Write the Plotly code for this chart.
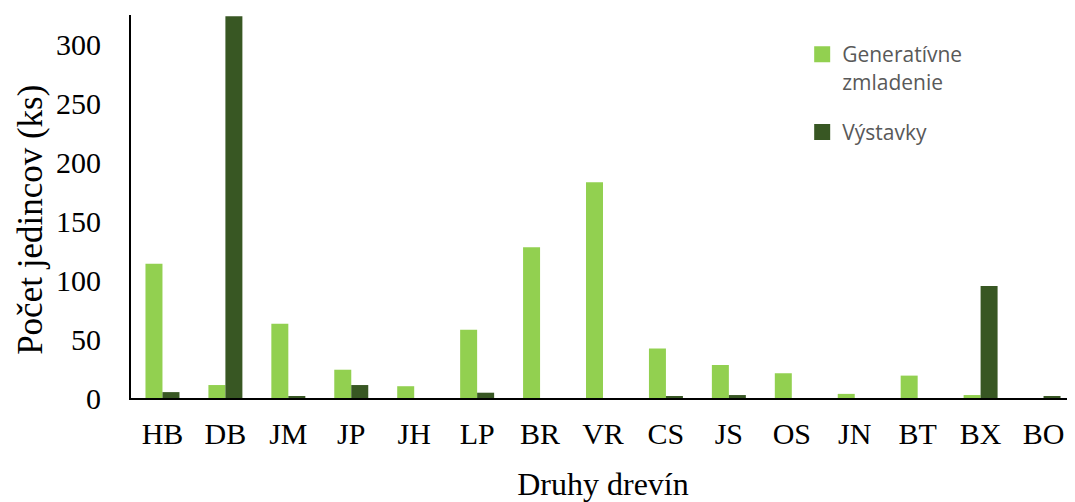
import plotly.graph_objects as go

categories = ["HB", "DB", "JM", "JP", "JH", "LP", "BR", "VR", "CS", "JS", "OS", "JN", "BT", "BX", "BO"]
generativne = [114, 11, 63, 24, 10, 58, 128, 183, 42, 28, 21, 3.5, 19, 2.5, 0]
vystavky = [5, 324, 1.5, 11, 0, 4.5, 0, 0, 1.5, 2.5, 0, 0, 0, 95, 1.5]
y_ticks = [0, 50, 100, 150, 200, 250, 300]
series_names = ["Generatívne<br>zmladenie", "Výstavky"]
series_colors = ["#92D050", "#385723"]

fig = go.Figure()
for vals, name, col in zip([generativne, vystavky], series_names, series_colors):
    fig.add_trace(go.Bar(x=categories, y=vals, name=name, showlegend=False,
                         marker=dict(color=col, line=dict(width=0))))
# legend entries with larger square swatches
for i, (name, col) in enumerate(zip(series_names, series_colors)):
    fig.add_trace(go.Scatter(x=[None], y=[None], mode="markers", name=name,
                             legendgroup=f"g{i}",
                             marker=dict(symbol="square", size=16, color=col)))

# page body has an 8px default margin, so the figure is sized/offset to compensate
fig.update_layout(
    width=1067, height=494,
    margin=dict(l=123, r=0, t=7, b=104, autoexpand=False),
    plot_bgcolor="white", paper_bgcolor="white",
    barmode="group", bargap=0.46, bargroupgap=0.0,
    font=dict(family="Liberation Serif", color="black"),
    legend=dict(x=0.711, y=0.95, xanchor="left", yanchor="top", valign="top",
                font=dict(family="Open Sans", size=21, color="#595959"),
                bgcolor="rgba(0,0,0,0)", tracegroupgap=20, itemsizing="trace"),
    xaxis=dict(showline=True, linecolor="black", linewidth=2, ticks="", automargin=False,
               ticklabelstandoff=8,
               tickfont=dict(size=30, family="Liberation Serif", color="black"),
               title=dict(text="Druhy drevín", font=dict(size=32, family="Liberation Serif"), standoff=24)),
    yaxis=dict(range=[0, 325], tickvals=y_ticks, showgrid=False, zeroline=False, automargin=False,
               showline=True, linecolor="black", linewidth=2, ticks="", ticklabelstandoff=22,
               tickfont=dict(size=30, family="Liberation Serif", color="black")),
    annotations=[dict(text="Počet jedincov (ks)", xref="paper", yref="paper",
                      x=-0.106, y=0.465, xanchor="center", yanchor="middle",
                      textangle=-90, showarrow=False,
                      font=dict(size=35, family="Liberation Serif", color="black"))],
)

fig.write_html("out.html")
